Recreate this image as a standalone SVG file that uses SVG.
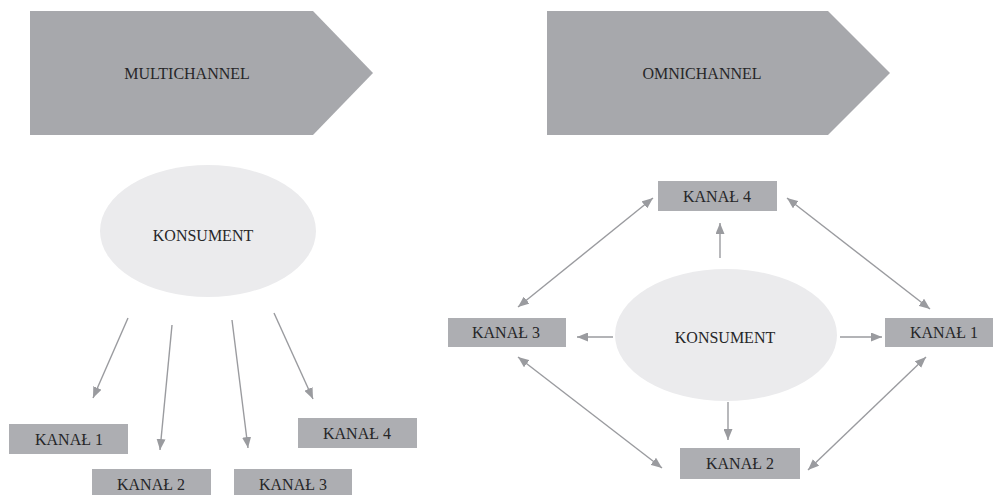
<svg xmlns="http://www.w3.org/2000/svg" width="993" height="495" viewBox="0 0 993 495">
<defs>
<style>
.pent{fill:#a7a8ac;}
.box{fill:#adaeb2;}
.ell{fill:#ebebed;}
.t{font-family:"Liberation Serif","Times New Roman",serif;font-size:16px;fill:#262628;text-anchor:middle;}
.c{stroke:#9a9b9f;stroke-width:1.4;fill:none;}
</style>
<marker id="ah" markerWidth="11" markerHeight="9" refX="11" refY="4.5" orient="auto-start-reverse" markerUnits="userSpaceOnUse">
<path d="M0,0 L11,4.5 L0,9 z" fill="#9a9b9f"/>
</marker>
</defs>
<rect width="993" height="495" fill="#ffffff"/>

<g id="multichannel">
<polygon class="pent" points="30,11 313,11 373,73 313,135 30,135"/>
<text class="t" x="187" y="79">MULTICHANNEL</text>
</g>
<g id="omnichannel">
<polygon class="pent" points="547,11 828,11 890,73 828,135 547,135"/>
<text class="t" x="702" y="79">OMNICHANNEL</text>
</g>

<g id="konsument-left">
<ellipse class="ell" cx="208" cy="231" rx="108" ry="66"/>
<text class="t" x="203" y="241">KONSUMENT</text>
</g>
<g id="l-kanal1"><rect class="box" x="9" y="424" width="119" height="30"/><text class="t" x="69" y="445">KANAŁ 1</text></g>
<g id="l-kanal2"><rect class="box" x="92" y="469" width="119" height="30"/><text class="t" x="151" y="490">KANAŁ 2</text></g>
<g id="l-kanal3"><rect class="box" x="234" y="469" width="118" height="30"/><text class="t" x="293" y="490">KANAŁ 3</text></g>
<g id="l-kanal4"><rect class="box" x="298" y="418" width="119" height="30"/><text class="t" x="357" y="439">KANAŁ 4</text></g>

<g id="konsument-right">
<ellipse class="ell" cx="726" cy="335" rx="111" ry="66"/>
<text class="t" x="725" y="343">KONSUMENT</text>
</g>
<g id="r-kanal4"><rect class="box" x="658" y="181" width="119" height="30"/><text class="t" x="717" y="202">KANAŁ 4</text></g>
<g id="r-kanal3"><rect class="box" x="448" y="318" width="118" height="29"/><text class="t" x="506" y="338">KANAŁ 3</text></g>
<g id="r-kanal1"><rect class="box" x="885" y="318" width="119" height="29"/><text class="t" x="944" y="338">KANAŁ 1</text></g>
<g id="r-kanal2"><rect class="box" x="680" y="448" width="120" height="31"/><text class="t" x="740" y="469">KANAŁ 2</text></g>

<g id="connectors">
<line class="c" x1="128" y1="318" x2="93" y2="398" marker-end="url(#ah)"/>
<line class="c" x1="172" y1="325" x2="160" y2="450" marker-end="url(#ah)"/>
<line class="c" x1="232" y1="320" x2="248" y2="448" marker-end="url(#ah)"/>
<line class="c" x1="274" y1="313" x2="313" y2="399" marker-end="url(#ah)"/>

<line class="c" x1="720" y1="258" x2="720" y2="223" marker-end="url(#ah)"/>
<line class="c" x1="613" y1="337" x2="577" y2="337" marker-end="url(#ah)"/>
<line class="c" x1="840" y1="337" x2="882" y2="337" marker-end="url(#ah)"/>
<line class="c" x1="728" y1="402" x2="728" y2="440" marker-end="url(#ah)"/>

<line class="c" x1="518" y1="307" x2="653" y2="198" marker-start="url(#ah)" marker-end="url(#ah)"/>
<line class="c" x1="787" y1="198" x2="930" y2="309" marker-start="url(#ah)" marker-end="url(#ah)"/>
<line class="c" x1="518" y1="357" x2="662" y2="468" marker-start="url(#ah)" marker-end="url(#ah)"/>
<line class="c" x1="926" y1="357" x2="808" y2="470" marker-start="url(#ah)" marker-end="url(#ah)"/>
</g>
</svg>
